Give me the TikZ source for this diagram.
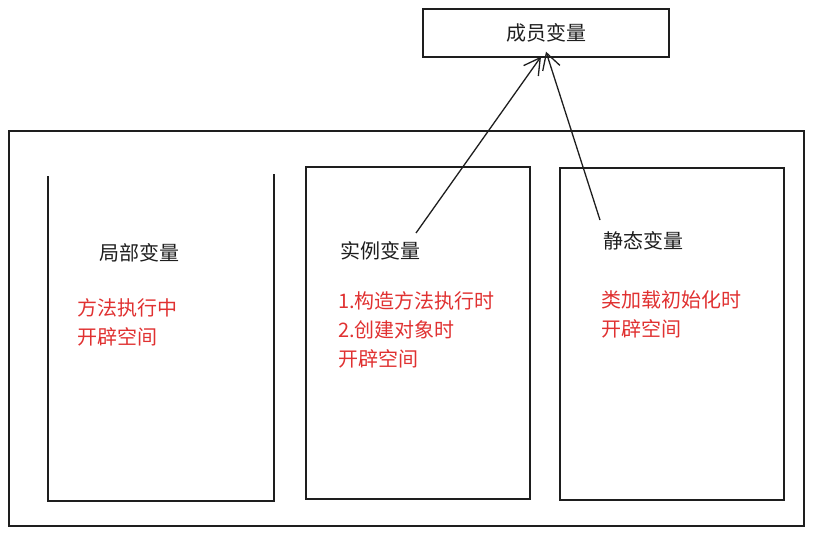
\documentclass[tikz,border=0pt]{standalone}
\usepackage{fontspec}
\setmainfont{Noto Sans CJK SC}
\usetikzlibrary{arrows.meta}
\definecolor{ink}{HTML}{1E1E1E}
\definecolor{hand}{HTML}{E03131}
\tikzset{
  frame/.style={draw=ink, line width=1.3pt},
  title/.style={anchor=west, inner sep=0pt, text=ink, font=\fontsize{20}{29}\selectfont},
  note/.style={anchor=north west, inner sep=0pt, align=left, text=hand, font=\fontsize{20}{29}\selectfont},
  link/.style={draw=ink, line width=1.3pt, -{Straight Barb[length=16pt, width=18pt, line width=1.3pt]}}
}
\begin{document}
\begin{tikzpicture}[x=1pt, y=-1pt]
\useasboundingbox (0,0) rectangle (813,535);

% 成员变量
\node[frame, minimum width=246pt, minimum height=48pt, inner sep=0pt, text=ink,
  font=\fontsize{20}{29}\selectfont] (member) at (546,33) {成员变量};

% 外框
\draw[frame] (9,131) rectangle (804,526);

% 三个区域
\draw[frame] (48,176) -- (48,501) -- (274,501) -- (274,174);
\draw[frame] (306,167) rectangle (530,499);
\draw[frame] (560,168) rectangle (784,500);

% 局部变量
\node[title] (local) at (99,253) {局部变量};
\node[note] (localnote) at (77,298) {方法执行中\\开辟空间};

% 实例变量
\node[title] (inst) at (340,251) {实例变量};
\node[note] (instnote) at (338,291) {1.构造方法执行时\\2.创建对象时\\开辟空间};

% 静态变量
\node[title] (static) at (603,241) {静态变量};
\node[note] (staticnote) at (601,290) {类加载初始化时\\开辟空间};

% 箭头
\coordinate (instfrom) at (416,233);
\coordinate (staticfrom) at (600,220);
\draw[link] (instfrom) -- ([xshift=-5pt,yshift=1pt]member.south);
\draw[link] (staticfrom) -- ([yshift=6pt]member.south);
\end{tikzpicture}
\end{document}
